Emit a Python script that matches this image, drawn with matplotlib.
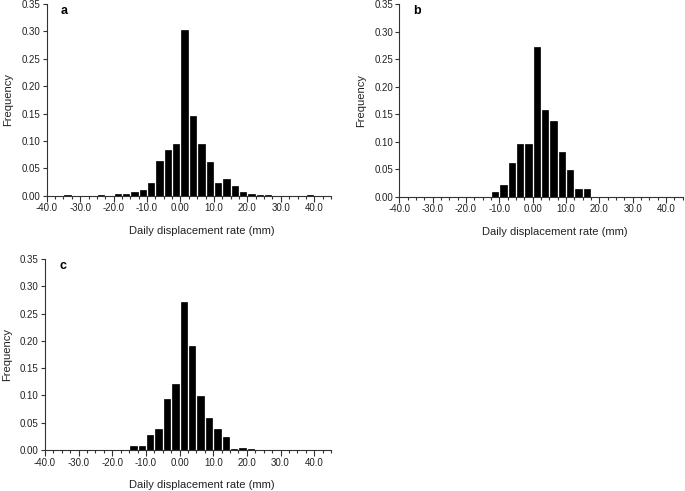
import numpy as np
import matplotlib
matplotlib.use("Agg")
import matplotlib.pyplot as plt
from matplotlib.ticker import MultipleLocator, FixedLocator

plt.rcParams["font.family"] = ["Liberation Sans", "DejaVu Sans"]

# Bin centres (bins of 2.5 mm)
centers_a = [-33.75, -23.75, -18.75, -16.25, -13.75, -11.25, -8.75, -6.25, -3.75,
             -1.25, 1.25, 3.75, 6.25, 8.75, 11.25, 13.75, 16.25, 18.75, 21.25,
             23.75, 26.25, 38.75]
freq_a = [0.001, 0.001, 0.003, 0.004, 0.006, 0.010, 0.024, 0.063, 0.083,
          0.094, 0.303, 0.145, 0.094, 0.061, 0.024, 0.030, 0.018, 0.007, 0.004,
          0.002, 0.002, 0.001]

centers_b = [-11.25, -8.75, -6.25, -3.75, -1.25, 1.25, 3.75, 6.25, 8.75,
             11.25, 13.75, 16.25]
freq_b = [0.008, 0.021, 0.062, 0.096, 0.096, 0.271, 0.157, 0.137, 0.082,
          0.048, 0.014, 0.014]

centers_c = [-13.75, -11.25, -8.75, -6.25, -3.75, -1.25, 1.25, 3.75, 6.25,
             8.75, 11.25, 13.75, 16.25, 18.75, 21.25]
freq_c = [0.008, 0.008, 0.027, 0.039, 0.094, 0.121, 0.271, 0.190, 0.099,
          0.058, 0.039, 0.024, 0.001, 0.004, 0.001]

xticks = [-40, -30, -20, -10, 0, 10, 20, 30, 40]
xtick_labels = ["-40.0", "-30.0", "-20.0", "-10.0", "0.00", "10.0", "20.0", "30.0", "40.0"]
yticks = [0.0, 0.05, 0.10, 0.15, 0.20, 0.25, 0.30, 0.35]
ytick_labels = ["0.00", "0.05", "0.10", "0.15", "0.20", "0.25", "0.30", "0.35"]

fig = plt.figure(figsize=(6.85, 4.91), dpi=100)

# (letter, centres, values, axes rect, xlabel x position)
panels = [
    ("a", centers_a, freq_a, [0.0682, 0.6014, 0.415, 0.3904], 0.547),
    ("b", centers_b, freq_b, [0.583, 0.5994, 0.4136, 0.3925], 0.548),
    ("c", centers_c, freq_c, [0.0657, 0.0835, 0.4175, 0.389], 0.547),
]

text_col = "#222222"

for letter, centers, freq, rect, lab_x in panels:
    ax = fig.add_axes(rect)
    ax.bar(centers, freq, width=1.9, color="black", edgecolor="black", linewidth=0.5)
    ax.set_xlim(-40, 45)
    ax.set_ylim(0, 0.35)
    ax.spines["top"].set_visible(False)
    ax.spines["right"].set_visible(False)
    ax.spines["left"].set_linewidth(0.8)
    ax.spines["bottom"].set_linewidth(0.8)
    ax.spines["left"].set_color("#333333")
    ax.spines["bottom"].set_color("#333333")
    ax.xaxis.set_major_locator(FixedLocator(xticks))
    ax.set_xticklabels(xtick_labels)
    ax.xaxis.set_minor_locator(MultipleLocator(2.5))
    ax.set_yticks(yticks)
    ax.set_yticklabels(ytick_labels)
    ax.tick_params(which="major", direction="out", length=4, width=0.8,
                   labelsize=7, pad=1.5, colors="#333333", labelcolor=text_col)
    ax.tick_params(which="minor", direction="out", length=2.5, width=0.8,
                   colors="#333333")
    ax.tick_params(axis="y", length=3)
    ax.set_xlabel("Daily displacement rate (mm)", fontsize=8, labelpad=9,
                  x=lab_x, color=text_col)
    ax.set_ylabel("Frequency", fontsize=8, labelpad=6, color=text_col)
    ax.text(0.05, 0.995, letter, transform=ax.transAxes, fontsize=9,
            fontweight="bold", ha="left", va="top")

fig.savefig("out.png", dpi=100)
